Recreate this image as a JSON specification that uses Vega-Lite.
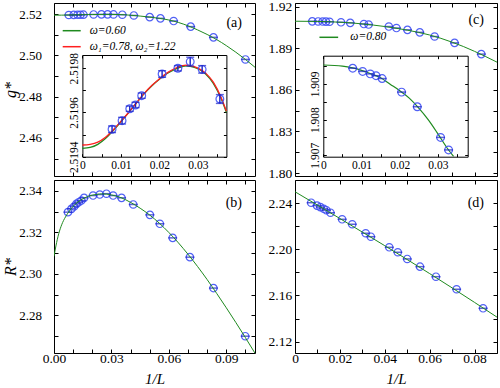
{
"$schema": "https://vega.github.io/schema/vega-lite/v6.json",
"padding": {"left": 2, "top": -1, "right": 0, "bottom": 0},
"background": "white",
"bounds": "flush",
"columns": 2,
"spacing": {"row": 4, "column": 40},
"resolve": {"scale": {"color": "independent"}, "legend": {"color": "independent"}},
"concat": [
 {"width": 201, "height": 173,
  "title": {"text": "(a)", "anchor": "end", "frame": "group", "dx": -13, "dy": 27, "offset": 0},
  "resolve": {"scale": {"x": "independent", "y": "independent"}, "axis": {"x": "independent", "y": "independent"}},
  "layer": [
   {"data": {"name": "aMain"},
    "mark": {"type": "point", "shape": "circle", "filled": false, "size": 55, "color": "#3f50f5", "strokeWidth": 1.2, "opacity": 0.9},
    "encoding": {
     "x": {"field": "x", "type": "quantitative", "scale": {"domain": [0, 0.105], "nice": false, "zero": false},
       "axis": {"orient": "bottom", "values": [0,0.01,0.02,0.03,0.04,0.05,0.06,0.07,0.08,0.09,0.1], "labels": false, "title": null}},
     "y": {"field": "y", "type": "quantitative", "scale": {"domain": [2.44155, 2.52533], "nice": false, "zero": false},
       "axis": {"orient": "left", "values": [2.45,2.46,2.47,2.48,2.49,2.5,2.51,2.52], "labelExpr": "round(datum.value*100) % 2 == 0 ? format(datum.value, '.2f') : ''", "labelPadding": 16.6, "labelFontSize": 13, "title": "g*", "titleX": -36}}
    }},
   {"data": {"name": "aMain"},
    "mark": {"type": "tick", "orient": "horizontal", "size": 9, "thickness": 1.5, "color": "#1a22c8"},
    "encoding": {
     "x": {"field": "x", "type": "quantitative", "scale": {"domain": [0, 0.105], "nice": false, "zero": false}, "axis": null},
     "y": {"field": "y", "type": "quantitative", "scale": {"domain": [2.44155, 2.52533], "nice": false, "zero": false}, "axis": null}
    }},
   {"data": {"name": "aCurve"},
    "mark": {"type": "line", "clip": true, "strokeWidth": 1, "interpolate": "monotone"},
    "encoding": {
     "x": {"field": "x", "type": "quantitative", "scale": {"domain": [0, 0.105], "nice": false, "zero": false},
       "axis": {"orient": "top", "values": [0,0.01,0.02,0.03,0.04,0.05,0.06,0.07,0.08,0.09,0.1], "labels": false, "title": null}},
     "y": {"field": "y", "type": "quantitative", "scale": {"domain": [2.44155, 2.52533], "nice": false, "zero": false},
       "axis": {"orient": "right", "values": [2.45,2.46,2.47,2.48,2.49,2.5,2.51,2.52], "labels": false, "title": null}},
     "color": {"field": "s", "type": "nominal", "scale": {"domain": ["ω=0.60", "ω₁=0.78,  ω₂=1.22"], "range": ["#1f8a1f", "#ff1f1f"]},
       "legend": {"orient": "none", "legendX": 7.7, "legendY": 17.7, "title": null, "symbolType": "stroke", "symbolSize": 324, "symbolStrokeWidth": 1.5, "labelFont": "Liberation Serif", "labelFontStyle": "italic", "labelFontSize": 11.5, "labelOffset": 8, "rowPadding": -11, "padding": 0, "labelColor": "#000"}}
    }},
   {"data": {"name": "aInsetCurve"},
    "mark": {"type": "line", "clip": true, "strokeWidth": 1.3, "interpolate": "monotone"},
    "encoding": {
     "x": {"field": "x", "type": "quantitative", "scale": {"domain": [0, 0.0374], "range": [28.4, 172.4], "nice": false, "zero": false},
       "axis": {"orient": "bottom", "offset": -19.3, "values": [0,0.005,0.01,0.015,0.02,0.025,0.03,0.035], "labelExpr": "datum.value == 0 ? '0' : (round(datum.value*1000) % 10 == 0 ? format(datum.value, '.2f') : '')", "labelFontSize": 11.5, "labelPadding": 6, "tickSize": -3, "title": null}},
     "y": {"field": "y", "type": "quantitative", "scale": {"domain": [2.5194, 2.51986], "range": [153.7, 52], "nice": false, "zero": false},
       "axis": {"orient": "left", "offset": -28.4, "values": [2.5194,2.5195,2.5196,2.5197,2.5198], "labelExpr": "round(datum.value*10000) % 2 == 0 ? format(datum.value, '.4f') : ''", "labelAngle": -90, "labelAlign": "center", "labelBaseline": "bottom", "labelFontSize": 11.5, "labelPadding": 6, "tickSize": -3, "title": null}},
     "color": {"field": "s", "type": "nominal", "scale": {"domain": ["ω=0.60", "ω₁=0.78,  ω₂=1.22"], "range": ["#1f8a1f", "#ff1f1f"]},
       "legend": {"orient": "none", "legendX": 7.7, "legendY": 17.7, "title": null, "symbolType": "stroke", "symbolSize": 324, "symbolStrokeWidth": 1.5, "labelFont": "Liberation Serif", "labelFontStyle": "italic", "labelFontSize": 11.5, "labelOffset": 8, "rowPadding": -11, "padding": 0, "labelColor": "#000"}}
    }},
   {"data": {"name": "aInsetPts"},
    "mark": {"type": "point", "shape": "circle", "filled": false, "size": 60, "color": "#3f50f5", "strokeWidth": 1.2, "opacity": 0.9},
    "encoding": {
     "x": {"field": "x", "type": "quantitative", "scale": {"domain": [0, 0.0374], "range": [28.4, 172.4], "nice": false, "zero": false},
       "axis": {"orient": "top", "offset": -52, "values": [0,0.005,0.01,0.015,0.02,0.025,0.03,0.035], "labels": false, "tickSize": -3, "title": null}},
     "y": {"field": "y", "type": "quantitative", "scale": {"domain": [2.5194, 2.51986], "range": [153.7, 52], "nice": false, "zero": false},
       "axis": {"orient": "right", "offset": -28.6, "values": [2.5194,2.5195,2.5196,2.5197,2.5198], "labels": false, "tickSize": -3, "title": null}}
    }},
   {"data": {"name": "aInsetPts"},
    "mark": {"type": "errorbar", "color": "#1a22c8", "ticks": {"size": 8, "thickness": 1.4}, "rule": {"strokeWidth": 1.4}},
    "encoding": {
     "x": {"field": "x", "type": "quantitative", "scale": {"domain": [0, 0.0374], "range": [28.4, 172.4], "nice": false, "zero": false}, "axis": null},
     "y": {"field": "lo", "type": "quantitative", "scale": {"domain": [2.5194, 2.51986], "range": [153.7, 52], "nice": false, "zero": false}, "axis": null},
     "y2": {"field": "hi"}
    }}
  ]},
 {"width": 202, "height": 173,
  "title": {"text": "(c)", "anchor": "end", "frame": "group", "dx": -13, "dy": 27, "offset": 0},
  "resolve": {"scale": {"x": "independent", "y": "independent"}, "axis": {"x": "independent", "y": "independent"}},
  "layer": [
   {"data": {"name": "cMain"},
    "mark": {"type": "point", "shape": "circle", "filled": false, "size": 55, "color": "#3f50f5", "strokeWidth": 1.2, "opacity": 0.9},
    "encoding": {
     "x": {"field": "x", "type": "quantitative", "scale": {"domain": [0, 0.09], "nice": false, "zero": false},
       "axis": {"orient": "bottom", "values": [0,0.01,0.02,0.03,0.04,0.05,0.06,0.07,0.08,0.09], "labels": false, "title": null}},
     "y": {"field": "y", "type": "quantitative", "scale": {"domain": [1.7979, 1.92267], "nice": false, "zero": false},
       "axis": {"orient": "left", "values": [1.8,1.815,1.83,1.845,1.86,1.875,1.89,1.905,1.92], "labelExpr": "round(datum.value*1000) % 30 == 0 ? format(datum.value, '.2f') : ''", "labelPadding": 7.3, "title": null}}
    }},
   {"data": {"name": "cMain"},
    "mark": {"type": "tick", "orient": "horizontal", "size": 9, "thickness": 1.5, "color": "#1a22c8"},
    "encoding": {
     "x": {"field": "x", "type": "quantitative", "scale": {"domain": [0, 0.09], "nice": false, "zero": false}, "axis": null},
     "y": {"field": "y", "type": "quantitative", "scale": {"domain": [1.7979, 1.92267], "nice": false, "zero": false}, "axis": null}
    }},
   {"data": {"name": "cCurve"},
    "mark": {"type": "line", "clip": true, "strokeWidth": 1, "interpolate": "monotone"},
    "encoding": {
     "x": {"field": "x", "type": "quantitative", "scale": {"domain": [0, 0.09], "nice": false, "zero": false},
       "axis": {"orient": "top", "values": [0,0.01,0.02,0.03,0.04,0.05,0.06,0.07,0.08,0.09], "labels": false, "title": null}},
     "y": {"field": "y", "type": "quantitative", "scale": {"domain": [1.7979, 1.92267], "nice": false, "zero": false},
       "axis": {"orient": "right", "values": [1.8,1.815,1.83,1.845,1.86,1.875,1.89,1.905,1.92], "labels": false, "title": null}},
     "color": {"field": "s", "type": "nominal", "scale": {"domain": ["ω=0.80"], "range": ["#1f8a1f"]},
       "legend": {"orient": "none", "legendX": 23.3, "legendY": 23.8, "title": null, "symbolType": "stroke", "symbolSize": 350, "symbolStrokeWidth": 1.5, "labelFont": "Liberation Serif", "labelFontStyle": "italic", "labelFontSize": 11.5, "labelOffset": 11, "padding": 0, "labelColor": "#000"}}
    }},
   {"data": {"name": "cInsetCurve"},
    "mark": {"type": "line", "clip": true, "strokeWidth": 1.2, "interpolate": "monotone"},
    "encoding": {
     "x": {"field": "x", "type": "quantitative", "scale": {"domain": [0, 0.0378], "range": [28.3, 172.7], "nice": false, "zero": false},
       "axis": {"orient": "bottom", "offset": -19.3, "values": [0,0.005,0.01,0.015,0.02,0.025,0.03,0.035], "labelExpr": "datum.value == 0 ? '0' : (round(datum.value*1000) % 10 == 0 ? format(datum.value, '.2f') : '')", "labelFontSize": 11.5, "labelPadding": 6, "tickSize": -3, "title": null}},
     "y": {"field": "y", "type": "quantitative", "scale": {"domain": [1.90696, 1.90979], "range": [153.7, 52.7], "nice": false, "zero": false},
       "axis": {"orient": "left", "offset": -28.3, "values": [1.907,1.9075,1.908,1.9085,1.909,1.9095], "labelExpr": "round(datum.value*10000) % 10 == 0 ? format(datum.value, '.3f') : ''", "labelAngle": -90, "labelAlign": "center", "labelBaseline": "bottom", "labelFontSize": 11.5, "labelPadding": 6, "tickSize": -3, "title": null}},
     "color": {"field": "s", "type": "nominal", "scale": {"domain": ["ω=0.80"], "range": ["#1f8a1f"]},
       "legend": {"orient": "none", "legendX": 23.3, "legendY": 23.8, "title": null, "symbolType": "stroke", "symbolSize": 350, "symbolStrokeWidth": 1.5, "labelFont": "Liberation Serif", "labelFontStyle": "italic", "labelFontSize": 11.5, "labelOffset": 11, "padding": 0, "labelColor": "#000"}}
    }},
   {"data": {"name": "cInsetPts"},
    "mark": {"type": "point", "shape": "circle", "filled": false, "size": 60, "color": "#3f50f5", "strokeWidth": 1.2, "opacity": 0.9},
    "encoding": {
     "x": {"field": "x", "type": "quantitative", "scale": {"domain": [0, 0.0378], "range": [28.3, 172.7], "nice": false, "zero": false},
       "axis": {"orient": "top", "offset": -52.7, "values": [0,0.005,0.01,0.015,0.02,0.025,0.03,0.035], "labels": false, "tickSize": -3, "title": null}},
     "y": {"field": "y", "type": "quantitative", "scale": {"domain": [1.90696, 1.90979], "range": [153.7, 52.7], "nice": false, "zero": false},
       "axis": {"orient": "right", "offset": -29.3, "values": [1.907,1.9075,1.908,1.9085,1.909,1.9095], "labels": false, "tickSize": -3, "title": null}}
    }},
   {"data": {"name": "cInsetPts"},
    "mark": {"type": "tick", "orient": "horizontal", "size": 9, "thickness": 1.5, "color": "#1a22c8"},
    "encoding": {
     "x": {"field": "x", "type": "quantitative", "scale": {"domain": [0, 0.0378], "range": [28.3, 172.7], "nice": false, "zero": false}, "axis": null},
     "y": {"field": "y", "type": "quantitative", "scale": {"domain": [1.90696, 1.90979], "range": [153.7, 52.7], "nice": false, "zero": false}, "axis": null}
    }}
  ]},
 {"width": 201, "height": 173,
  "title": {"text": "(b)", "anchor": "end", "frame": "group", "dx": -13, "dy": 30, "offset": 0},
  "resolve": {"scale": {"x": "independent", "y": "independent"}, "axis": {"x": "independent", "y": "independent"}},
  "layer": [
   {"data": {"name": "bPts"},
    "mark": {"type": "point", "shape": "circle", "filled": false, "size": 55, "color": "#3f50f5", "strokeWidth": 1.2, "opacity": 0.9},
    "encoding": {
     "x": {"field": "x", "type": "quantitative", "scale": {"domain": [0, 0.105], "nice": false, "zero": false},
       "axis": {"orient": "bottom", "values": [0,0.01,0.02,0.03,0.04,0.05,0.06,0.07,0.08,0.09,0.1], "labelExpr": "round(datum.value*100) % 3 == 0 ? format(datum.value, '.2f') : ''", "labelPadding": 2.5, "title": "1/L", "titlePadding": 6, "titleFontSize": 15}},
     "y": {"field": "y", "type": "quantitative", "scale": {"domain": [2.2619, 2.3453], "nice": false, "zero": false},
       "axis": {"orient": "left", "values": [2.27,2.28,2.29,2.3,2.31,2.32,2.33,2.34], "labelExpr": "round(datum.value*100) % 2 == 0 ? format(datum.value, '.2f') : ''", "labelPadding": 16.6, "labelFontSize": 13, "title": "R*", "titleX": -36}}
    }},
   {"data": {"name": "bPts"},
    "mark": {"type": "tick", "orient": "horizontal", "size": 9, "thickness": 1.5, "color": "#1a22c8"},
    "encoding": {
     "x": {"field": "x", "type": "quantitative", "scale": {"domain": [0, 0.105], "nice": false, "zero": false}, "axis": null},
     "y": {"field": "y", "type": "quantitative", "scale": {"domain": [2.2619, 2.3453], "nice": false, "zero": false}, "axis": null}
    }},
   {"data": {"name": "bCurve"},
    "mark": {"type": "line", "clip": true, "strokeWidth": 1, "interpolate": "monotone", "color": "#1f8a1f"},
    "encoding": {
     "x": {"field": "x", "type": "quantitative", "scale": {"domain": [0, 0.105], "nice": false, "zero": false},
       "axis": {"orient": "top", "values": [0,0.01,0.02,0.03,0.04,0.05,0.06,0.07,0.08,0.09,0.1], "labels": false, "title": null}},
     "y": {"field": "y", "type": "quantitative", "scale": {"domain": [2.2619, 2.3453], "nice": false, "zero": false},
       "axis": {"orient": "right", "values": [2.27,2.28,2.29,2.3,2.31,2.32,2.33,2.34], "labels": false, "title": null}}
    }}
  ]},
 {"width": 202, "height": 173,
  "title": {"text": "(d)", "anchor": "end", "frame": "group", "dx": -13, "dy": 30, "offset": 0},
  "resolve": {"scale": {"x": "independent", "y": "independent"}, "axis": {"x": "independent", "y": "independent"}},
  "layer": [
   {"data": {"name": "dPts"},
    "mark": {"type": "point", "shape": "circle", "filled": false, "size": 55, "color": "#3f50f5", "strokeWidth": 1.2, "opacity": 0.9},
    "encoding": {
     "x": {"field": "x", "type": "quantitative", "scale": {"domain": [0, 0.09], "nice": false, "zero": false},
       "axis": {"orient": "bottom", "values": [0,0.01,0.02,0.03,0.04,0.05,0.06,0.07,0.08,0.09], "labelExpr": "datum.value == 0 ? '0' : (round(datum.value*100) % 2 == 0 ? format(datum.value, '.2f') : '')", "labelPadding": 2.5, "title": "1/L", "titlePadding": 6, "titleFontSize": 15}},
     "y": {"field": "y", "type": "quantitative", "scale": {"domain": [2.1101, 2.2602], "nice": false, "zero": false},
       "axis": {"orient": "left", "values": [2.12,2.14,2.16,2.18,2.2,2.22,2.24], "labelExpr": "round(datum.value*100) % 4 == 0 ? format(datum.value, '.2f') : ''", "labelPadding": 7.3, "title": null}}
    }},
   {"data": {"name": "dPts"},
    "mark": {"type": "tick", "orient": "horizontal", "size": 9, "thickness": 1.5, "color": "#1a22c8"},
    "encoding": {
     "x": {"field": "x", "type": "quantitative", "scale": {"domain": [0, 0.09], "nice": false, "zero": false}, "axis": null},
     "y": {"field": "y", "type": "quantitative", "scale": {"domain": [2.1101, 2.2602], "nice": false, "zero": false}, "axis": null}
    }},
   {"data": {"name": "dCurve"},
    "mark": {"type": "line", "clip": true, "strokeWidth": 1, "interpolate": "monotone", "color": "#1f8a1f"},
    "encoding": {
     "x": {"field": "x", "type": "quantitative", "scale": {"domain": [0, 0.09], "nice": false, "zero": false},
       "axis": {"orient": "top", "values": [0,0.01,0.02,0.03,0.04,0.05,0.06,0.07,0.08,0.09], "labels": false, "title": null}},
     "y": {"field": "y", "type": "quantitative", "scale": {"domain": [2.1101, 2.2602], "nice": false, "zero": false},
       "axis": {"orient": "right", "values": [2.12,2.14,2.16,2.18,2.2,2.22,2.24], "labels": false, "title": null}}
    }}
  ]}
],
"datasets": {
 "aMain": [{"x":0.0077,"y":2.519524},{"x":0.0103,"y":2.519563},{"x":0.0123,"y":2.519617},{"x":0.0138,"y":2.519634},{"x":0.0154,"y":2.519676},{"x":0.0207,"y":2.519774},{"x":0.0248,"y":2.5198},{"x":0.028,"y":2.51983},{"x":0.0311,"y":2.519795},{"x":0.0357,"y":2.519661},{"x":0.0417,"y":2.5193},{"x":0.05,"y":2.5185},{"x":0.0556,"y":2.5179},{"x":0.0625,"y":2.5166},{"x":0.0714,"y":2.5139},{"x":0.0833,"y":2.5087},{"x":0.1,"y":2.498}],
 "aCurve": [{"x":0,"y":2.519438,"s":"ω=0.60"},{"x":0.004,"y":2.519456,"s":"ω=0.60"},{"x":0.008,"y":2.519518,"s":"ω=0.60"},{"x":0.012,"y":2.519599,"s":"ω=0.60"},{"x":0.016,"y":2.519684,"s":"ω=0.60"},{"x":0.02,"y":2.51975,"s":"ω=0.60"},{"x":0.024,"y":2.519795,"s":"ω=0.60"},{"x":0.027,"y":2.519811,"s":"ω=0.60"},{"x":0.03,"y":2.519798,"s":"ω=0.60"},{"x":0.034,"y":2.519732,"s":"ω=0.60"},{"x":0.037,"y":2.51962,"s":"ω=0.60"},{"x":0.04,"y":2.5194,"s":"ω=0.60"},{"x":0.045,"y":2.519,"s":"ω=0.60"},{"x":0.05,"y":2.5185,"s":"ω=0.60"},{"x":0.055,"y":2.5179,"s":"ω=0.60"},{"x":0.06,"y":2.5171,"s":"ω=0.60"},{"x":0.065,"y":2.5159,"s":"ω=0.60"},{"x":0.07,"y":2.5143,"s":"ω=0.60"},{"x":0.075,"y":2.5123,"s":"ω=0.60"},{"x":0.08,"y":2.5101,"s":"ω=0.60"},{"x":0.085,"y":2.5076,"s":"ω=0.60"},{"x":0.09,"y":2.5047,"s":"ω=0.60"},{"x":0.095,"y":2.5015,"s":"ω=0.60"},{"x":0.1,"y":2.498,"s":"ω=0.60"},{"x":0.105,"y":2.4942,"s":"ω=0.60"}],
 "aInsetPts": [{"x":0.0077,"y":2.519524,"lo":2.519509,"hi":2.519539},{"x":0.0103,"y":2.519563,"lo":2.519548,"hi":2.519578},{"x":0.0123,"y":2.519617,"lo":2.519605,"hi":2.519629},{"x":0.0138,"y":2.519634,"lo":2.519622,"hi":2.519646},{"x":0.0154,"y":2.519676,"lo":2.519664,"hi":2.519688},{"x":0.0207,"y":2.519774,"lo":2.519759,"hi":2.519789},{"x":0.0248,"y":2.5198,"lo":2.519788,"hi":2.519812},{"x":0.028,"y":2.51983,"lo":2.51981,"hi":2.51985},{"x":0.0311,"y":2.519795,"lo":2.519778,"hi":2.519812},{"x":0.0357,"y":2.519661,"lo":2.519641,"hi":2.519681}],
 "aInsetCurve": [
  {"x":0,"y":2.519438,"s":"ω=0.60"},{"x":0.002,"y":2.519442,"s":"ω=0.60"},{"x":0.004,"y":2.519456,"s":"ω=0.60"},{"x":0.006,"y":2.519482,"s":"ω=0.60"},{"x":0.008,"y":2.519518,"s":"ω=0.60"},{"x":0.01,"y":2.519558,"s":"ω=0.60"},{"x":0.012,"y":2.519599,"s":"ω=0.60"},{"x":0.014,"y":2.519642,"s":"ω=0.60"},{"x":0.016,"y":2.519684,"s":"ω=0.60"},{"x":0.018,"y":2.51972,"s":"ω=0.60"},{"x":0.02,"y":2.51975,"s":"ω=0.60"},{"x":0.022,"y":2.519776,"s":"ω=0.60"},{"x":0.024,"y":2.519795,"s":"ω=0.60"},{"x":0.026,"y":2.519808,"s":"ω=0.60"},{"x":0.027,"y":2.519811,"s":"ω=0.60"},{"x":0.028,"y":2.519809,"s":"ω=0.60"},{"x":0.03,"y":2.519798,"s":"ω=0.60"},{"x":0.032,"y":2.519774,"s":"ω=0.60"},{"x":0.034,"y":2.519732,"s":"ω=0.60"},{"x":0.036,"y":2.519664,"s":"ω=0.60"},{"x":0.0374,"y":2.5196,"s":"ω=0.60"},
  {"x":0,"y":2.519453,"s":"ω₁=0.78,  ω₂=1.22"},{"x":0.002,"y":2.519456,"s":"ω₁=0.78,  ω₂=1.22"},{"x":0.004,"y":2.519466,"s":"ω₁=0.78,  ω₂=1.22"},{"x":0.006,"y":2.519488,"s":"ω₁=0.78,  ω₂=1.22"},{"x":0.008,"y":2.519521,"s":"ω₁=0.78,  ω₂=1.22"},{"x":0.01,"y":2.51956,"s":"ω₁=0.78,  ω₂=1.22"},{"x":0.012,"y":2.5196,"s":"ω₁=0.78,  ω₂=1.22"},{"x":0.014,"y":2.519643,"s":"ω₁=0.78,  ω₂=1.22"},{"x":0.016,"y":2.519685,"s":"ω₁=0.78,  ω₂=1.22"},{"x":0.018,"y":2.519722,"s":"ω₁=0.78,  ω₂=1.22"},{"x":0.02,"y":2.519752,"s":"ω₁=0.78,  ω₂=1.22"},{"x":0.022,"y":2.519779,"s":"ω₁=0.78,  ω₂=1.22"},{"x":0.024,"y":2.519799,"s":"ω₁=0.78,  ω₂=1.22"},{"x":0.026,"y":2.519812,"s":"ω₁=0.78,  ω₂=1.22"},{"x":0.027,"y":2.519814,"s":"ω₁=0.78,  ω₂=1.22"},{"x":0.028,"y":2.519812,"s":"ω₁=0.78,  ω₂=1.22"},{"x":0.03,"y":2.519801,"s":"ω₁=0.78,  ω₂=1.22"},{"x":0.032,"y":2.519778,"s":"ω₁=0.78,  ω₂=1.22"},{"x":0.034,"y":2.519737,"s":"ω₁=0.78,  ω₂=1.22"},{"x":0.036,"y":2.519669,"s":"ω₁=0.78,  ω₂=1.22"},{"x":0.0374,"y":2.519606,"s":"ω₁=0.78,  ω₂=1.22"}],
 "bPts": [{"x":0.0073,"y":2.3298},{"x":0.0091,"y":2.3314},{"x":0.0105,"y":2.3325},{"x":0.0117,"y":2.3338},{"x":0.0129,"y":2.3346},{"x":0.0143,"y":2.3354},{"x":0.0157,"y":2.3367},{"x":0.0204,"y":2.3378},{"x":0.0239,"y":2.3383},{"x":0.0274,"y":2.3387},{"x":0.0309,"y":2.3378},{"x":0.0353,"y":2.3367},{"x":0.0414,"y":2.3335},{"x":0.0501,"y":2.3285},{"x":0.0553,"y":2.3242},{"x":0.062,"y":2.3174},{"x":0.071,"y":2.3081},{"x":0.0833,"y":2.2932},{"x":0.0999,"y":2.27}],
 "bCurve": [{"x":0,"y":2.3085},{"x":0.001,"y":2.3135},{"x":0.0025,"y":2.3195},{"x":0.004,"y":2.3237},{"x":0.006,"y":2.3275},{"x":0.008,"y":2.3303},{"x":0.01,"y":2.3326},{"x":0.0125,"y":2.3347},{"x":0.015,"y":2.3362},{"x":0.0175,"y":2.3373},{"x":0.02,"y":2.338},{"x":0.0225,"y":2.3384},{"x":0.025,"y":2.3386},{"x":0.0275,"y":2.3385},{"x":0.03,"y":2.3381},{"x":0.035,"y":2.3368},{"x":0.04,"y":2.3345},{"x":0.045,"y":2.3317},{"x":0.05,"y":2.3284},{"x":0.055,"y":2.3245},{"x":0.06,"y":2.32},{"x":0.065,"y":2.315},{"x":0.07,"y":2.3095},{"x":0.075,"y":2.3036},{"x":0.08,"y":2.2973},{"x":0.085,"y":2.2906},{"x":0.09,"y":2.2837},{"x":0.095,"y":2.2766},{"x":0.1,"y":2.2693},{"x":0.105,"y":2.2618}],
 "cMain": [{"x":0.0077,"y":1.90944},{"x":0.0103,"y":1.90935},{"x":0.0123,"y":1.90928},{"x":0.0138,"y":1.90923},{"x":0.0154,"y":1.90915},{"x":0.0205,"y":1.90877},{"x":0.0246,"y":1.90836},{"x":0.0307,"y":1.9075},{"x":0.0328,"y":1.90715},{"x":0.0418,"y":1.9057},{"x":0.0452,"y":1.9046},{"x":0.0501,"y":1.9033},{"x":0.0556,"y":1.9015},{"x":0.0622,"y":1.8985},{"x":0.0711,"y":1.8939},{"x":0.083,"y":1.8858}],
 "cCurve": [{"x":0,"y":1.90953,"s":"ω=0.80"},{"x":0.01,"y":1.90938,"s":"ω=0.80"},{"x":0.02,"y":1.90881,"s":"ω=0.80"},{"x":0.025,"y":1.90832,"s":"ω=0.80"},{"x":0.03,"y":1.9076,"s":"ω=0.80"},{"x":0.035,"y":1.90672,"s":"ω=0.80"},{"x":0.04,"y":1.9057,"s":"ω=0.80"},{"x":0.045,"y":1.9045,"s":"ω=0.80"},{"x":0.05,"y":1.9031,"s":"ω=0.80"},{"x":0.055,"y":1.9015,"s":"ω=0.80"},{"x":0.06,"y":1.8996,"s":"ω=0.80"},{"x":0.065,"y":1.8972,"s":"ω=0.80"},{"x":0.07,"y":1.8944,"s":"ω=0.80"},{"x":0.075,"y":1.8913,"s":"ω=0.80"},{"x":0.08,"y":1.8878,"s":"ω=0.80"},{"x":0.085,"y":1.884,"s":"ω=0.80"},{"x":0.09,"y":1.88,"s":"ω=0.80"}],
 "cInsetPts": [{"x":0.0077,"y":1.90944},{"x":0.0103,"y":1.90935},{"x":0.0123,"y":1.90928},{"x":0.0138,"y":1.90923},{"x":0.0154,"y":1.90915},{"x":0.0205,"y":1.90877},{"x":0.0246,"y":1.90836},{"x":0.0307,"y":1.9075},{"x":0.0328,"y":1.90715}],
 "cInsetCurve": [{"x":0,"y":1.90953,"s":"ω=0.80"},{"x":0.005,"y":1.9095,"s":"ω=0.80"},{"x":0.0077,"y":1.90945,"s":"ω=0.80"},{"x":0.01,"y":1.90938,"s":"ω=0.80"},{"x":0.0125,"y":1.90928,"s":"ω=0.80"},{"x":0.015,"y":1.90917,"s":"ω=0.80"},{"x":0.0175,"y":1.90899,"s":"ω=0.80"},{"x":0.02,"y":1.90881,"s":"ω=0.80"},{"x":0.0225,"y":1.9086,"s":"ω=0.80"},{"x":0.025,"y":1.90832,"s":"ω=0.80"},{"x":0.0275,"y":1.90799,"s":"ω=0.80"},{"x":0.03,"y":1.9076,"s":"ω=0.80"},{"x":0.0325,"y":1.90719,"s":"ω=0.80"},{"x":0.0341,"y":1.90697,"s":"ω=0.80"}],
 "dPts": [{"x":0.0072,"y":2.2405},{"x":0.0098,"y":2.238},{"x":0.0113,"y":2.2367},{"x":0.0128,"y":2.2352},{"x":0.014,"y":2.234},{"x":0.0158,"y":2.2318},{"x":0.021,"y":2.2261},{"x":0.0255,"y":2.2218},{"x":0.0315,"y":2.214},{"x":0.0338,"y":2.211},{"x":0.042,"y":2.2018},{"x":0.0458,"y":2.1975},{"x":0.05,"y":2.1917},{"x":0.0557,"y":2.185},{"x":0.0628,"y":2.1763},{"x":0.072,"y":2.1654},{"x":0.0838,"y":2.1489}],
 "dCurve": [{"x":0,"y":2.25},{"x":0.02,"y":2.2268},{"x":0.04,"y":2.2032},{"x":0.06,"y":2.179},{"x":0.08,"y":2.154},{"x":0.09,"y":2.1412}]
},
"config": {
 "view": {"stroke": null},
 "font": "Liberation Serif",
 "axis": {"domainColor": "#000", "domainWidth": 1, "tickColor": "#000", "tickWidth": 1, "tickSize": -4, "labelFont": "Liberation Serif", "labelFontSize": 13.5, "labelColor": "#000", "labelFlush": false, "labelOverlap": false, "labelPadding": 7, "titleFont": "Liberation Serif", "titleFontSize": 16, "titleFontStyle": "italic", "titleFontWeight": "normal", "titleColor": "#000", "grid": false, "minExtent": 0},
 "title": {"font": "Liberation Serif", "fontSize": 14, "fontWeight": "normal", "color": "#000"}
}
}
